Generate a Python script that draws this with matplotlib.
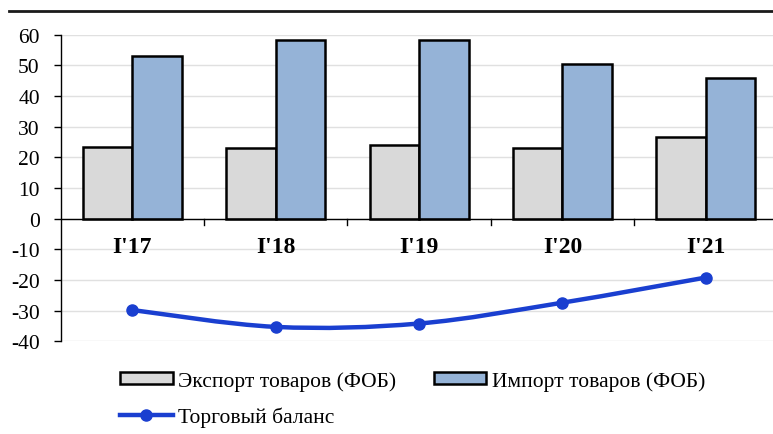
import matplotlib
matplotlib.use("Agg")
import matplotlib.pyplot as plt
from matplotlib.path import Path
from matplotlib.patches import PathPatch, Patch
from matplotlib.lines import Line2D
import numpy as np

categories = ["I'17", "I'18", "I'19", "I'20", "I'21"]
export_vals = [23.4, 22.9, 24.0, 23.0, 26.6]
import_vals = [53.0, 58.2, 58.2, 50.5, 45.8]
balance_vals = [-29.8, -35.3, -34.2, -27.4, -19.2]
yticks = [-40, -30, -20, -10, 0, 10, 20, 30, 40, 50, 60]

export_label = "Экспорт товаров (ФОБ)"
import_label = "Импорт товаров (ФОБ)"
balance_label = "Торговый баланс"

c_export = "#d9d9d9"
c_import = "#95b3d7"
c_line = "#1a3fd0"

plt.rcParams['font.family'] = ['Liberation Serif', 'DejaVu Serif']

fig = plt.figure(figsize=(7.73, 4.35), dpi=100)
ax = fig.add_axes([60.6 / 773, 0.2131, (777.5 - 60.6) / 773, 0.918 - 0.2131])

x = np.arange(len(categories))
w = 0.345
ax.bar(x - w / 2, export_vals, width=w, color=c_export, edgecolor="black", linewidth=1.8, zorder=3)
ax.bar(x + w / 2, import_vals, width=w, color=c_import, edgecolor="black", linewidth=1.8, zorder=3)

# smooth line (Excel-like Catmull-Rom bezier through data points)
pts = np.column_stack([x, balance_vals]).astype(float)
verts = [tuple(pts[0])]
codes = [Path.MOVETO]
n = len(pts)
for i in range(n - 1):
    p0 = pts[i - 1] if i > 0 else pts[i]
    p1 = pts[i]
    p2 = pts[i + 1]
    p3 = pts[i + 2] if i + 2 < n else pts[i + 1]
    c1 = p1 + (p2 - p0) / 6.0
    c2 = p2 - (p3 - p1) / 6.0
    verts += [tuple(c1), tuple(c2), tuple(p2)]
    codes += [Path.CURVE4] * 3
ax.add_patch(PathPatch(Path(verts, codes), facecolor="none", edgecolor=c_line,
                       linewidth=3.2, zorder=4, capstyle="round"))
ax.plot(x, balance_vals, linestyle="none", marker="o", markersize=8,
        color=c_line, zorder=5)

ax.set_xlim(-0.5, len(categories) - 0.5)
ax.set_ylim(-40, 60)
ax.set_yticks(yticks)
ax.set_yticklabels([str(v) for v in yticks], fontsize=15.5)
ax.tick_params(axis="y", direction="out", length=5, width=1, pad=10)
ax.grid(axis="y", color="#e0e0e0", linewidth=1, zorder=0)
ax.set_axisbelow(True)

for s in ["top", "right", "bottom"]:
    ax.spines[s].set_visible(False)
ax.spines["left"].set_linewidth(1)

# x axis line at zero with boundary ticks
ax.axhline(0, color="black", linewidth=1, zorder=3.5)
ax.set_xticks([])
for b in np.arange(0.5, len(categories) - 0.5, 1.0):
    ax.plot([b, b], [0, -2.1], color="black", linewidth=1, zorder=3.5, clip_on=False)

for i, c in enumerate(categories):
    ax.text(i, -9.0, c, ha="center", va="center", fontsize=17, fontweight="bold", zorder=6)

# top rule
fig.add_artist(Line2D([9 / 773, 1.0], [1 - 12 / 435, 1 - 12 / 435], color="#1a1a1a",
                      linewidth=2, transform=fig.transFigure))

handles = [Patch(facecolor=c_export, edgecolor="black", linewidth=1.8),
           Line2D([], [], color=c_line, linewidth=3.2, marker="o", markersize=8),
           Patch(facecolor=c_import, edgecolor="black", linewidth=1.8)]
labels = [export_label, balance_label, import_label]
fig.legend(handles, labels, loc="upper left", bbox_to_anchor=(120 / 773, 1 - 372 / 435),
           ncol=2, frameon=False, fontsize=15.5, handlelength=2.45, handleheight=0.5,
           handletextpad=0.24, columnspacing=1.75, labelspacing=0.72, borderpad=0,
           borderaxespad=0)

fig.savefig("out.png", dpi=100)
